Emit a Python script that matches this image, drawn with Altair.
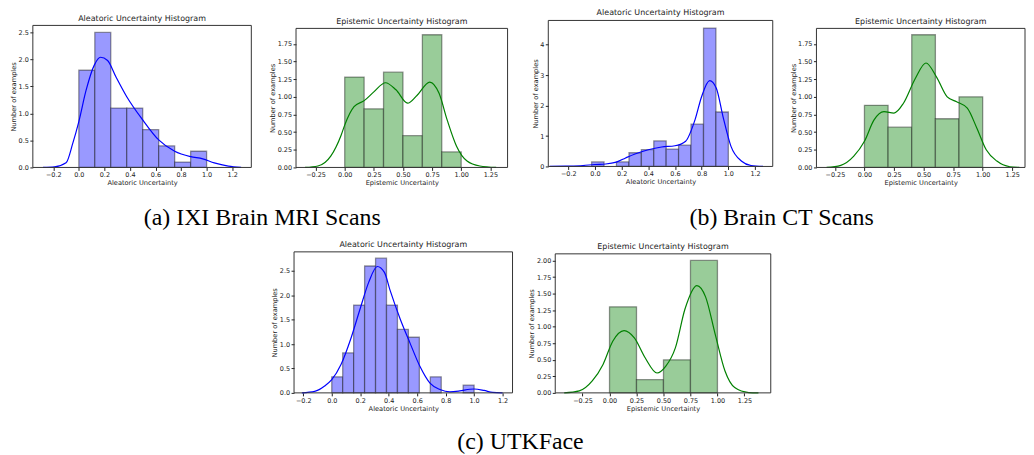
import altair as alt
import pandas as pd

# ---------------- data ----------------
# (a) IXI Brain MRI - aleatoric
A1_edges = [0.0, 0.125, 0.25, 0.375, 0.5, 0.625, 0.75, 0.875, 1.0]
A1_heights = [1.8, 2.5, 1.1, 1.1, 0.7, 0.4, 0.1, 0.3]
A1_kde_x = [-0.28, -0.19, -0.1, -0.047, 0.0, 0.057, 0.12, 0.17, 0.225, 0.29, 0.375, 0.5, 0.625, 0.75, 0.875, 0.97, 1.06, 1.17, 1.27]
A1_kde_y = [0.0, 0.01, 0.085, 0.45, 0.85, 1.43, 1.89, 2.04, 1.98, 1.68, 1.31, 0.88, 0.51, 0.3, 0.2, 0.16, 0.085, 0.025, 0.0]

# (a) IXI Brain MRI - epistemic
E1_edges = [0.0, 0.1667, 0.3333, 0.5, 0.6667, 0.8333, 1.0]
E1_heights = [1.28, 0.83, 1.35, 0.45, 1.88, 0.22]
E1_kde_x = [-0.34, -0.23, -0.12, -0.03, 0.0, 0.08, 0.17, 0.25, 0.35, 0.44, 0.54, 0.62, 0.73, 0.81, 0.88, 0.96, 1.05, 1.16, 1.3]
E1_kde_y = [0.0, 0.02, 0.16, 0.46, 0.6, 0.86, 0.95, 1.07, 1.2, 1.1, 0.91, 1.02, 1.21, 1.05, 0.67, 0.3, 0.09, 0.02, 0.0]

# (b) Brain CT - aleatoric
A2_edges = [-0.025, 0.068, 0.161, 0.255, 0.348, 0.441, 0.534, 0.627, 0.720, 0.814, 0.907, 1.0]
A2_heights = [0.15, 0.0, 0.15, 0.45, 0.55, 0.84, 0.57, 0.7, 1.39, 4.55, 1.79]
A2_kde_x = [-0.34, -0.22, -0.09, 0.0, 0.08, 0.16, 0.23, 0.3, 0.4, 0.5, 0.6, 0.68, 0.75, 0.8, 0.86, 0.91, 0.96, 1.02, 1.1, 1.17, 1.26]
A2_kde_y = [0.0, 0.01, 0.03, 0.065, 0.08, 0.14, 0.28, 0.41, 0.55, 0.64, 0.68, 0.83, 1.53, 2.3, 2.82, 2.57, 1.64, 0.66, 0.17, 0.03, 0.0]

# (b) Brain CT - epistemic
E2_edges = [0.0, 0.2, 0.4, 0.6, 0.8, 1.0]
E2_heights = [0.88, 0.57, 1.88, 0.69, 1.0]
E2_kde_x = [-0.32, -0.2, -0.09, 0.0, 0.08, 0.165, 0.25, 0.33, 0.43, 0.52, 0.61, 0.7, 0.78, 0.87, 0.95, 1.03, 1.12, 1.23, 1.31]
E2_kde_y = [0.0, 0.03, 0.16, 0.37, 0.67, 0.79, 0.77, 0.91, 1.26, 1.48, 1.28, 1.0, 0.93, 0.84, 0.56, 0.25, 0.09, 0.01, 0.0]

# (c) UTKFace - aleatoric
A3_edges = [0.0, 0.0769, 0.1538, 0.2308, 0.3077, 0.3846, 0.4615, 0.5385, 0.6154, 0.6923, 0.7692, 0.8462, 0.9231, 1.0]
A3_heights = [0.33, 0.82, 1.8, 2.6, 2.76, 1.8, 1.3, 1.14, 0.0, 0.33, 0.0, 0.0, 0.16]
A3_kde_x = [-0.21, -0.12, -0.05, 0.0, 0.065, 0.135, 0.2, 0.26, 0.32, 0.37, 0.41, 0.48, 0.55, 0.62, 0.69, 0.76, 0.83, 0.9, 0.97, 1.0, 1.07, 1.13, 1.2]
A3_kde_y = [0.0, 0.03, 0.14, 0.27, 0.58, 1.12, 1.73, 2.27, 2.59, 2.47, 2.1, 1.52, 1.02, 0.54, 0.2, 0.07, 0.02, 0.04, 0.075, 0.08, 0.05, 0.01, 0.0]

# (c) UTKFace - epistemic
E3_edges = [0.0, 0.25, 0.5, 0.75, 1.0]
E3_heights = [1.3, 0.2, 0.5, 2.0]
E3_kde_x = [-0.42, -0.28, -0.16, -0.06, 0.03, 0.135, 0.23, 0.33, 0.44, 0.52, 0.61, 0.7, 0.81, 0.89, 0.98, 1.07, 1.16, 1.29, 1.38]
E3_kde_y = [0.0, 0.03, 0.18, 0.43, 0.78, 0.94, 0.83, 0.53, 0.3, 0.4, 0.68, 1.27, 1.62, 1.45, 0.88, 0.33, 0.08, 0.005, 0.0]

# tick labels
TICKS_X_A = [-0.2, 0.0, 0.2, 0.4, 0.6, 0.8, 1.0, 1.2]
TICKS_X_E = [-0.25, 0.0, 0.25, 0.5, 0.75, 1.0, 1.25]
TICKS_Y_A1 = [0.0, 0.5, 1.0, 1.5, 2.0, 2.5]
TICKS_Y_E12 = [0.0, 0.25, 0.5, 0.75, 1.0, 1.25, 1.5, 1.75]
TICKS_Y_A2 = [0, 1, 2, 3, 4]
TICKS_Y_E3 = [0.0, 0.25, 0.5, 0.75, 1.0, 1.25, 1.5, 1.75, 2.0]

CAPTIONS = ["(a) IXI Brain MRI Scans", "(b) Brain CT Scans", "(c) UTKFace"]

# ---------------- styling / layout ----------------
FONT = "DejaVu Sans"
BLUE_FILL, BLUE_LINE = "#9999ff", "#0000ff"
GREEN_FILL, GREEN_LINE = "#99cc99", "#008000"
FRAME = "#333333"


def panel(title, xtitle, edges, heights, kx, ky, fill, line,
          cell_w, cell_h, plot_w, plot_top, xdom, ydom, xticks, xfmt, yticks, yfmt,
          extra_layers=()):
    bars = pd.DataFrame({"lo": edges[:-1], "hi": edges[1:], "n": heights})
    bars = bars[bars.n > 0]
    kde = pd.DataFrame({"x": kx, "y": ky})
    xs = alt.Scale(domain=xdom, nice=False, zero=False, range=[0, plot_w])
    ys = alt.Scale(domain=ydom, nice=False, zero=False, range=[cell_h, plot_top])
    xa = alt.Axis(values=xticks, tickCount=40, format=xfmt, title=xtitle,
                  labelOverlap=False, labelFlush=False)
    ya = alt.Axis(values=yticks, tickCount=40, format=yfmt, title="Number of examples",
                  labelOverlap=False, labelFlush=False)
    b = alt.Chart(bars).mark_rect(
        fill=fill, stroke="black", strokeOpacity=0.4, strokeWidth=1.3
    ).encode(
        x=alt.X("lo:Q", scale=xs, axis=xa), x2="hi:Q",
        y=alt.Y("n:Q", scale=ys, axis=ya), y2=alt.datum(0),
    )
    l = alt.Chart(kde).mark_line(color=line, strokeWidth=1.2, interpolate="monotone").encode(
        x="x:Q", y="y:Q"
    )
    frame = alt.Chart(pd.DataFrame({"v": [0]})).mark_rect(
        filled=False, stroke=FRAME, strokeWidth=1
    ).encode(
        x=alt.datum(xdom[0]), x2=alt.datum(xdom[1]),
        y=alt.datum(ydom[0]), y2=alt.datum(ydom[1]),
    )
    return alt.layer(b, l, frame, *extra_layers).properties(
        width=cell_w, height=cell_h,
        title=alt.Title(title, anchor="start", frame="group", align="center",
                        dx=plot_w / 2, dy=plot_top, offset=2.5),
    )


def caption(text, xpos, ypos):
    return alt.Chart(pd.DataFrame({"t": [text]})).mark_text(
        font="Liberation Serif", fontSize=24, align="center", baseline="middle", color="black"
    ).encode(text="t:N", x=alt.value(xpos), y=alt.value(ypos))


ALE_T, EPI_T = "Aleatoric Uncertainty Histogram", "Epistemic Uncertainty Histogram"
ALE_X, EPI_X = "Aleatoric Uncertainty", "Epistemic Uncertainty"

# all cells start at the top of the tallest first-row plot; the first cell holds the captions
caps = (caption(CAPTIONS[0], 231, 199), caption(CAPTIONS[1], 754, 199), caption(CAPTIONS[2], 491, 424))

p1 = panel(ALE_T, ALE_X, A1_edges, A1_heights, A1_kde_x, A1_kde_y, BLUE_FILL, BLUE_LINE,
           263, 148, 220, 5, [-0.36, 1.35], [0, 2.63], TICKS_X_A, ".1f", TICKS_Y_A1, ".1f",
           extra_layers=caps)
p5 = panel(ALE_T, ALE_X, A3_edges, A3_heights, A3_kde_x, A3_kde_y, BLUE_FILL, BLUE_LINE,
           2, 375, 220, 233, [-0.265, 1.27], [0, 2.89], TICKS_X_A, ".1f", TICKS_Y_A1, ".1f")
p2 = panel(EPI_T, EPI_X, E1_edges, E1_heights, E1_kde_x, E1_kde_y, GREEN_FILL, GREEN_LINE,
           254, 148, 213, 8, [-0.418, 1.398], [0, 1.97], TICKS_X_E, ".2f", TICKS_Y_E12, ".2f")
p3 = panel(ALE_T, ALE_X, A2_edges, A2_heights, A2_kde_x, A2_kde_y, BLUE_FILL, BLUE_LINE,
           7, 147, 226, 0, [-0.35, 1.333], [0, 4.8], TICKS_X_A, ".1f", TICKS_Y_A2, "d")
p6 = panel(EPI_T, EPI_X, E3_edges, E3_heights, E3_kde_x, E3_kde_y, GREEN_FILL, GREEN_LINE,
           263, 375, 217, 235, [-0.503, 1.494], [0, 2.1], TICKS_X_E, ".2f", TICKS_Y_E3, ".2f")
p4 = panel(EPI_T, EPI_X, E2_edges, E2_heights, E2_kde_x, E2_kde_y, GREEN_FILL, GREEN_LINE,
           210, 148, 210, 8, [-0.406, 1.358], [0, 1.97], TICKS_X_E, ".2f", TICKS_Y_E12, ".2f")

chart = alt.hconcat(p1, p5, p2, p3, p6, p4, spacing=0, bounds="flush").properties(
    padding={"left": 2, "top": 0, "right": 0, "bottom": 0}
).configure_view(stroke=None).configure_axis(
    labelFont=FONT, titleFont=FONT, labelFontSize=6.5, titleFontSize=6.7, titleFontWeight="normal",
    labelColor="#222", titleColor="#222", tickColor="#222", domain=False,
    tickSize=3, labelPadding=1.5, titlePadding=1.5, grid=False,
).configure_title(
    font=FONT, fontSize=8, fontWeight="normal", color="#222"
)

chart.save("out.html", embed_options={"renderer": "svg", "actions": False})
